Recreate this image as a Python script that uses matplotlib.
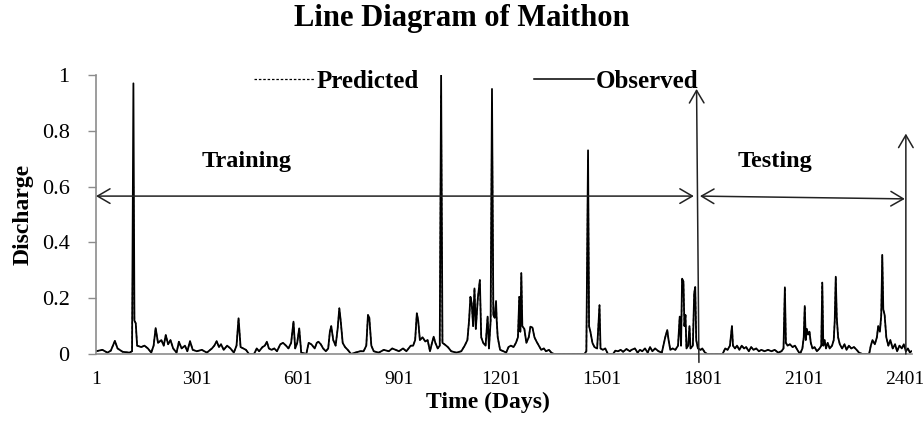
"""Line diagram of Maithon discharge: observed vs predicted."""

import matplotlib
matplotlib.use('Agg')
import numpy as np
import matplotlib.pyplot as plt
from matplotlib.lines import Line2D

plt.rcParams['font.family'] = ['Liberation Serif', 'DejaVu Serif']

# ── Data (day, normalised discharge) ────────────────────────────────────────
days = [
    1, 20, 35, 45, 57, 65, 80, 100, 108, 112, 115, 119, 123, 135, 145, 155, 165,
    172, 178, 185, 195, 202, 208, 215, 222, 230, 240, 247, 255, 265, 272, 280,
    288, 300, 315, 330, 345, 352, 359, 366, 372, 380, 390,
    400, 410, 418, 424, 430, 438, 446, 455, 470, 478, 485, 495, 502, 508, 514,
    522, 530, 538, 548, 556, 565, 572, 580, 587, 592, 598, 604, 610, 625, 632,
    640, 650, 656, 661, 668, 675, 683, 690, 695, 699, 705, 712, 718, 723, 727,
    733, 740, 748, 758, 770,
    785, 795, 803, 808, 812, 818, 825, 840, 855, 870, 880, 890, 900, 912, 922,
    935, 942, 948, 953, 957, 962, 970, 978, 985, 992, 998, 1003, 1008, 1015,
    1021, 1025, 1029, 1035, 1045, 1055, 1070, 1085, 1095, 1103, 1108, 1112,
    1116, 1120, 1124, 1128, 1134, 1140, 1144, 1150, 1157, 1163, 1167, 1172,
    1176, 1180, 1184, 1188,
    1190, 1193, 1200, 1210, 1218, 1225, 1232, 1240, 1247, 1253, 1257, 1260,
    1263, 1266, 1272, 1278, 1285, 1290, 1296, 1302, 1308, 1315, 1322, 1330,
    1336, 1345, 1352, 1360, 1450, 1456, 1461, 1464, 1468, 1474, 1480, 1488,
    1495, 1498, 1505, 1512, 1520, 1535, 1542, 1550, 1558, 1565, 1575, 1585, 1590,
    1600, 1608, 1615, 1622, 1630, 1638, 1645, 1652, 1660, 1670, 1680, 1690,
    1696, 1700, 1705, 1712, 1720, 1728, 1733, 1737, 1740, 1744, 1747, 1750,
    1753, 1758, 1762, 1765, 1772, 1776, 1779, 1782, 1787, 1795, 1800, 1808,
    1815, 1860, 1868, 1875, 1882, 1888, 1891, 1897, 1903, 1910, 1917, 1924,
    1930, 1938, 1945, 1952, 1960, 1968, 1975, 1985, 1995,
    2005, 2015, 2025, 2035, 2041, 2045, 2048, 2053, 2060, 2068, 2075, 2082,
    2090, 2097, 2101, 2104, 2107, 2110, 2114, 2118, 2122, 2127, 2133, 2140,
    2148, 2153, 2156, 2159, 2163, 2167, 2172, 2178, 2185, 2190, 2193, 2196,
    2199, 2203, 2208, 2215, 2222, 2228, 2235, 2242, 2250, 2258, 2265, 2275,
    2295, 2300, 2305, 2312, 2318, 2322, 2327, 2331, 2334, 2337, 2341, 2346,
    2352, 2358, 2365, 2372, 2378, 2385, 2392, 2398, 2404, 2410, 2416, 2420,
]
observed = [
    0.01, 0.015, 0.005, 0.012, 0.047, 0.02, 0.008, 0.005, 0.01, 0.97, 0.12, 0.11,
    0.03, 0.025, 0.03, 0.02, 0.005, 0.03, 0.093, 0.04, 0.05, 0.03, 0.068, 0.035,
    0.05, 0.02, 0.005, 0.044, 0.02, 0.03, 0.01, 0.046, 0.015, 0.01, 0.015, 0.005,
    0.02, 0.03, 0.046, 0.025, 0.035, 0.015, 0.03,
    0.02, 0.005, 0.03, 0.128, 0.025, 0.02, 0.015, 0.0, 0.0, 0.02, 0.01, 0.025,
    0.03, 0.044, 0.02, 0.015, 0.02, 0.01, 0.035, 0.04, 0.03, 0.02, 0.04, 0.116,
    0.02, 0.04, 0.092, 0.005, 0.0, 0.04, 0.035, 0.02, 0.04, 0.044, 0.035, 0.02,
    0.01, 0.02, 0.08, 0.1, 0.05, 0.03, 0.09, 0.164, 0.12, 0.04, 0.025, 0.015,
    0.0, 0.005,
    0.01, 0.01, 0.03, 0.14, 0.13, 0.03, 0.01, 0.005, 0.015, 0.01, 0.02, 0.015,
    0.01, 0.02, 0.01, 0.03, 0.03, 0.05, 0.146, 0.12, 0.05, 0.06, 0.045, 0.05,
    0.01, 0.04, 0.062, 0.04, 0.02, 0.03, 1.0, 0.04, 0.035, 0.025, 0.01, 0.005,
    0.01, 0.03, 0.05, 0.12, 0.205, 0.18, 0.1, 0.235, 0.09, 0.2, 0.265, 0.06,
    0.04, 0.03, 0.134, 0.02, 0.12, 0.95, 0.14, 0.13, 0.19,
    0.12, 0.06, 0.015, 0.01, 0.005, 0.025, 0.03, 0.025, 0.04, 0.06, 0.205, 0.08,
    0.29, 0.1, 0.09, 0.04, 0.06, 0.098, 0.095, 0.06, 0.045, 0.03, 0.015, 0.02,
    0.01, 0.015, 0.005, 0.0, 0.0, 0.01, 0.73, 0.1, 0.08, 0.04, 0.025, 0.02,
    0.175, 0.02, 0.015, 0.02, 0.0, 0.0, 0.012, 0.01, 0.015, 0.008, 0.018, 0.01,
    0.015,
    0.02, 0.005, 0.015, 0.01, 0.02, 0.005, 0.025, 0.01, 0.02, 0.01, 0.005, 0.06,
    0.086, 0.05, 0.015, 0.02, 0.015, 0.03, 0.134, 0.03, 0.27, 0.26, 0.1, 0.14,
    0.02, 0.03, 0.1, 0.02, 0.03, 0.218, 0.24, 0.05, 0.02, 0.015, 0.02, 0.005,
    0.0, 0.0, 0.02, 0.015, 0.03, 0.1, 0.03, 0.02, 0.03, 0.015, 0.03, 0.02,
    0.025, 0.01, 0.025, 0.015, 0.02, 0.01, 0.015, 0.01, 0.015,
    0.01, 0.015, 0.005, 0.01, 0.02, 0.239, 0.04, 0.03, 0.035, 0.025, 0.03, 0.015,
    0.0, 0.02, 0.06, 0.172, 0.05, 0.09, 0.07, 0.08, 0.04, 0.02, 0.025, 0.01,
    0.02, 0.03, 0.256, 0.03, 0.05, 0.02, 0.04, 0.02, 0.03, 0.05, 0.12, 0.277,
    0.13, 0.06, 0.035, 0.02, 0.035, 0.015, 0.03, 0.02, 0.025, 0.015, 0.005, 0.0,
    0.0, 0.03, 0.05, 0.035, 0.06, 0.1, 0.08, 0.14, 0.355, 0.16, 0.14, 0.06,
    0.03, 0.05, 0.02, 0.035, 0.01, 0.03, 0.02, 0.035, 0.01, 0.02, 0.005, 0.01,
]
# predicted tracks observed almost exactly; only the big spikes fall a bit short
predicted_peaks = {112: 0.6, 1025: 0.93, 1176: 0.9, 1461: 0.7}

x_ticks = [1, 301, 601, 901, 1201, 1501, 1801, 2101, 2401]
y_ticks = [0, 0.2, 0.4, 0.6, 0.8, 1]
y_labels = ['0', '0.2', '0.4', '0.6', '0.8', '1']

predicted = [predicted_peaks.get(d, v) for d, v in zip(days, observed)]

# ── Figure ──────────────────────────────────────────────────────────────────
fig = plt.figure(figsize=(9.23, 4.36), dpi=100)
ax = fig.add_axes([0.104, 0.188, 0.884, 0.640])

ax.plot(days, predicted, color='#333333', lw=1.0, ls=(0, (2, 1.5)))
ax.plot(days, observed, color='black', lw=1.3)

ax.set_xlim(1, 2422)
ax.set_ylim(0, 1)
ax.set_xticks(x_ticks)
ax.set_xticklabels([str(t) for t in x_ticks], fontsize=14)
ax.set_yticks(y_ticks)
ax.set_yticklabels(y_labels, fontsize=16)
ax.tick_params(axis='x', length=0, pad=12)
ax.tick_params(axis='y', length=6, width=1, color='#8c8c8c', pad=13)

for side in ['top', 'right']:
    ax.spines[side].set_visible(False)
for side in ['left', 'bottom']:
    ax.spines[side].set_color('#8c8c8c')
    ax.spines[side].set_linewidth(1.2)

ax.set_xlabel('Time (Days)', fontsize=17, fontweight='bold')
ax.xaxis.set_label_coords(0.48, -0.135)
ax.set_ylabel('Discharge', fontsize=17, fontweight='bold')
ax.yaxis.set_label_coords(-0.077, 0.5)
fig.suptitle('Line Diagram of Maithon', fontsize=22, fontweight='bold', y=0.99)

# Training / testing spans
arrow_kw = dict(arrowstyle='<->, head_length=0.6, head_width=0.35',
                color='#222222', lw=1.1, mutation_scale=15, shrinkA=0, shrinkB=0)
ax.annotate('', xy=(1, 0.566), xytext=(1775, 0.566), arrowprops=arrow_kw)
ax.annotate('', xy=(1793, 0.566), xytext=(2401, 0.556), arrowprops=arrow_kw)

up_kw = dict(arrowstyle='->, head_length=0.6, head_width=0.35',
             color='#222222', lw=1.1, mutation_scale=15, shrinkA=0, shrinkB=0)
ax.annotate('', xy=(1783, 0.95), xytext=(1790, -0.03), arrowprops=up_kw,
            annotation_clip=False)
ax.annotate('', xy=(2404, 0.79), xytext=(2404, 0.0), arrowprops=up_kw)

ax.text(448, 0.69, 'Training', fontsize=17.5, fontweight='bold', ha='center', va='center')
ax.text(2015, 0.69, 'Testing', fontsize=17.5, fontweight='bold', ha='center', va='center')

# Legend drawn as one row across the top
handles = [Line2D([], [], color='black', lw=0.9, ls=(0, (2, 1.5))),
           Line2D([], [], color='black', lw=1.1)]
ax.legend(handles, ['Predicted', 'Observed'], ncol=2, frameon=False,
          loc='center', bbox_to_anchor=(0.466, 0.978),
          prop={'size': 18, 'weight': 'bold'},
          handlelength=2.4, handletextpad=0.1, columnspacing=4.6)

fig.savefig('out.png', dpi=100)
plt.close(fig)
print("Saved: out.png")
